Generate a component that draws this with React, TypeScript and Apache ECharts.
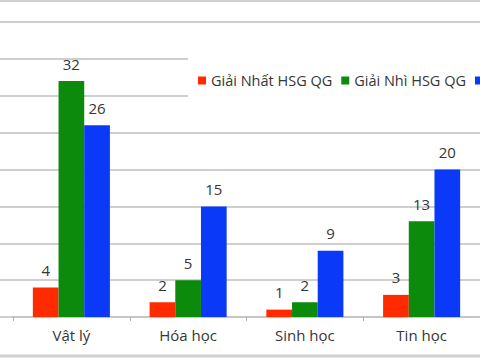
import React, { useEffect, useRef } from "react";
import * as echarts from "echarts";

const categories = ["Vật lý", "Hóa học", "Sinh học", "Tin học"];
const seriesNames = ["Giải Nhất HSG QG", "Giải Nhì HSG QG", "Giải Ba HSG QG"];
const giaiNhat = [4, 2, 1, 3];
const giaiNhi = [32, 5, 2, 13];
const giaiBa = [26, 15, 9, 20];
const colors = ["#FF2A00", "#0B8A0B", "#0A3AF8"];

const FONT = "'Open Sans', 'DejaVu Sans', sans-serif";
const TEXT = "#363636";

export default function App() {
  const ref = useRef<HTMLDivElement>(null);
  useEffect(() => {
    if (!ref.current) return;
    const chart = echarts.init(ref.current, null, { renderer: "svg" });
    const values = [giaiNhat, giaiNhi, giaiBa];
    chart.setOption({
      animation: false,
      backgroundColor: "#ffffff",
      textStyle: { fontFamily: FONT },
      grid: [
        { left: 0, right: 0, top: 22, bottom: 43, containLabel: false },
        { left: 13, right: 0, top: 22, bottom: 43, containLabel: false },
      ],
      legend: {
        left: 188,
        top: 35,
        width: 800,
        padding: [38, 10, 36, 10],
        backgroundColor: "#ffffff",
        itemWidth: 8,
        itemHeight: 8,
        itemGap: 9,
        icon: "rect",
        textStyle: { fontSize: 14.5, color: TEXT, fontFamily: FONT },
        formatter: (name: string) => (name === seriesNames[2] ? "" : name),
        data: seriesNames,
      },
      xAxis: [
        { type: "value", gridIndex: 0, show: false, min: 0, max: 1 },
        {
          type: "category",
          gridIndex: 1,
          data: categories,
          axisLine: { lineStyle: { color: "#c4c4c4", width: 1.5 } },
          axisTick: { show: true, length: 4, lineStyle: { color: "#b0b0b0" } },
          axisLabel: { fontSize: 15, color: TEXT, margin: 10, fontFamily: FONT },
        },
      ],
      yAxis: [
        {
          type: "value",
          gridIndex: 0,
          min: 0,
          max: 40,
          interval: 5,
          axisLabel: { show: false },
          axisLine: { show: false },
          axisTick: { show: false },
          splitLine: { lineStyle: { color: "#cfcfcf", width: 2 } },
        },
        {
          type: "value",
          gridIndex: 1,
          min: 0,
          max: 40,
          interval: 5,
          axisLabel: { show: false },
          axisLine: { show: false },
          axisTick: { show: false },
          splitLine: { show: false },
        },
      ],
      graphic: [
        { type: "line", shape: { x1: 0, y1: 1, x2: 480, y2: 1 }, style: { stroke: "#d0d0d0", lineWidth: 2 } },
        { type: "line", shape: { x1: 0, y1: 356, x2: 480, y2: 356 }, style: { stroke: "#d0d0d0", lineWidth: 3 } },
      ],
      series: values.map((v, i) => ({
        name: seriesNames[i],
        type: "bar",
        xAxisIndex: 1,
        yAxisIndex: 1,
        data: v,
        barGap: "0%",
        barCategoryGap: "34%",
        itemStyle: { color: colors[i] },
        label: {
          show: true,
          position: "top",
          distance: 10,
          fontSize: 15,
          color: TEXT,
          fontFamily: FONT,
        },
      })),
    });
    return () => chart.dispose();
  }, []);
  return <div ref={ref} style={{ width: 480, height: 360, position: "absolute", left: 0, top: 0 }} />;
}
